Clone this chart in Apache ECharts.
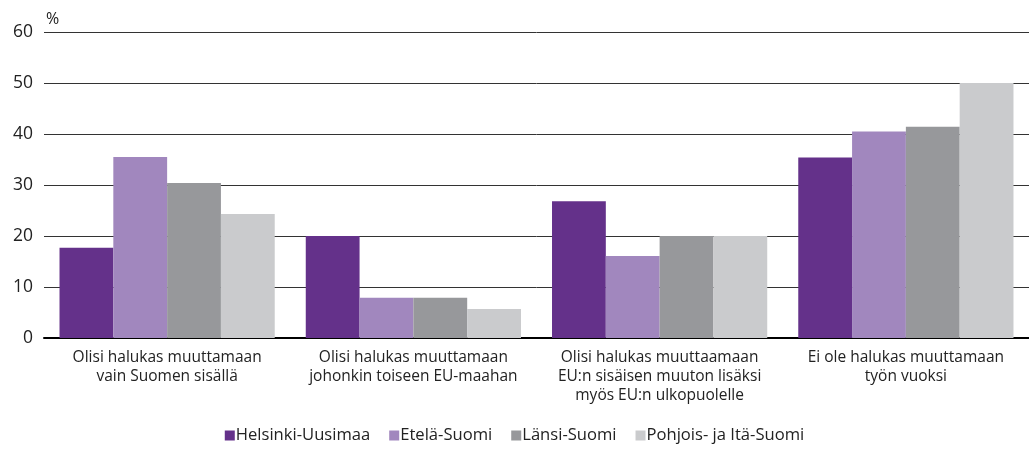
<!DOCTYPE html>
<html>
<head>
<meta charset="utf-8">
<script src="https://cdn.jsdelivr.net/npm/echarts@6/dist/echarts.min.js"></script>
<style>
  html, body { margin: 0; padding: 0; background: #fff; }
  #chart-container { width: 1029px; height: 449px; }
</style>
</head>
<body>
<div id="chart-container"></div>
<script>
// categories and values
var categories = [
  'Olisi halukas muuttamaan\nvain Suomen sisällä',
  'Olisi halukas muuttamaan\njohonkin toiseen EU-maahan',
  'Olisi halukas muuttaamaan\nEU:n sisäisen muuton lisäksi\nmyös EU:n ulkopuolelle',
  'Ei ole halukas muuttamaan\ntyön vuoksi'
];
var seriesNames = ['Helsinki-Uusimaa', 'Etelä-Suomi', 'Länsi-Suomi', 'Pohjois- ja Itä-Suomi'];
var helsinki = [17.7, 20.0, 26.8, 35.4];
var etela = [35.5, 7.9, 16.1, 40.5];
var lansi = [30.4, 7.9, 20.0, 41.4];
var pohjois = [24.3, 5.7, 20.0, 50.0];
var colors = ['#64318a', '#a187be', '#97989b', '#cacbcd'];

var font = '"Open Sans", "Noto Sans", sans-serif';

var dom = document.getElementById('chart-container');
var myChart = echarts.init(dom, null, { renderer: 'canvas' });

var allData = [helsinki, etela, lansi, pohjois];
var series = seriesNames.map(function (name, i) {
  return {
    name: name,
    type: 'bar',
    data: allData[i],
    barGap: '0%',
    barCategoryGap: '12.6%',
    itemStyle: { color: colors[i] }
  };
});

var option = {
  animation: false,
  color: colors,
  textStyle: { fontFamily: font },
  grid: { left: 44, right: 0, top: 32, bottom: 111, containLabel: false },
  legend: {
    bottom: 0,
    left: 'center',
    itemWidth: 10,
    itemHeight: 10,
    itemGap: 19,
    icon: 'rect',
    textStyle: { fontFamily: font, fontSize: 16.6, color: '#222', padding: [0, 0, 0, -4] },
    data: seriesNames
  },
  xAxis: {
    type: 'category',
    data: categories,
    axisLine: { lineStyle: { color: '#000', width: 2 } },
    axisTick: { show: false },
    axisLabel: {
      fontFamily: font,
      fontSize: 15.5,
      color: '#222',
      lineHeight: 19,
      margin: 10,
      interval: 0
    }
  },
  yAxis: {
    type: 'value',
    min: 0,
    max: 60,
    interval: 10,
    name: '%',
    nameLocation: 'end',
    nameGap: 5,
    nameTextStyle: { fontFamily: font, fontSize: 16, color: '#222', align: 'left', padding: [0, 0, 0, 2] },
    axisLine: { show: false },
    axisTick: { show: false },
    axisLabel: { fontFamily: font, fontSize: 17.5, color: '#222', margin: 11 },
    splitLine: { lineStyle: { color: '#333', width: 1 } }
  },
  series: series
};

myChart.setOption(option);
window.addEventListener('resize', myChart.resize);
</script>
</body>
</html>
